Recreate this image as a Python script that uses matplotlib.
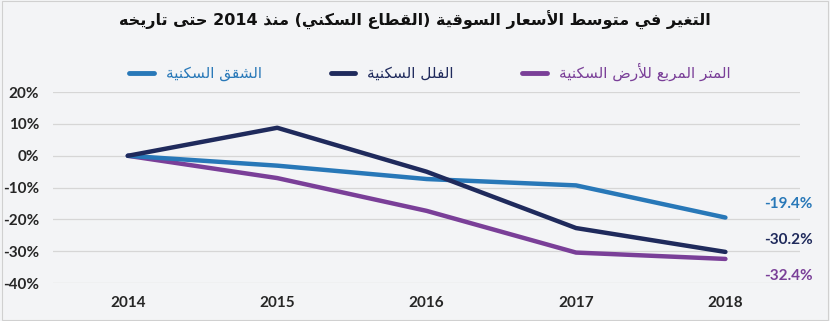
import re
import matplotlib
matplotlib.use("Agg")
import matplotlib.pyplot as plt
from matplotlib.lines import Line2D

# ---------------- data ----------------
years = ["2014", "2015", "2016", "2017", "2018"]
apartments = [0.0, -3.1, -7.3, -9.3, -19.4]      # الشقق السكنية
villas = [0.0, 8.8, -5.0, -22.7, -30.2]          # الفلل السكنية
land = [0.0, -7.0, -17.3, -30.4, -32.4]          # المتر المربع للأرض السكنية
end_labels = ["-19.4%", "-30.2%", "-32.4%"]
y_ticks = [20, 10, 0, -10, -20, -30, -40]

title_ar = "التغير في متوسط الأسعار السوقية (القطاع السكني) منذ 2014 حتى تاريخه"
name_apart = "الشقق السكنية"
name_villa = "الفلل السكنية"
name_land = "المتر المربع للأرض السكنية"

# ---------------- minimal Arabic shaping ----------------
FORMS = {
    '\u0627': (0xFE8D, 0xFE8E, None, None),
    '\u0623': (0xFE83, 0xFE84, None, None),
    '\u0628': (0xFE8F, 0xFE90, 0xFE91, 0xFE92),
    '\u0629': (0xFE93, 0xFE94, None, None),
    '\u062A': (0xFE95, 0xFE96, 0xFE97, 0xFE98),
    '\u062D': (0xFEA1, 0xFEA2, 0xFEA3, 0xFEA4),
    '\u062E': (0xFEA5, 0xFEA6, 0xFEA7, 0xFEA8),
    '\u0630': (0xFEAB, 0xFEAC, None, None),
    '\u0631': (0xFEAD, 0xFEAE, None, None),
    '\u0633': (0xFEB1, 0xFEB2, 0xFEB3, 0xFEB4),
    '\u0634': (0xFEB5, 0xFEB6, 0xFEB7, 0xFEB8),
    '\u0636': (0xFEBD, 0xFEBE, 0xFEBF, 0xFEC0),
    '\u0637': (0xFEC1, 0xFEC2, 0xFEC3, 0xFEC4),
    '\u0639': (0xFEC9, 0xFECA, 0xFECB, 0xFECC),
    '\u063A': (0xFECD, 0xFECE, 0xFECF, 0xFED0),
    '\u0641': (0xFED1, 0xFED2, 0xFED3, 0xFED4),
    '\u0642': (0xFED5, 0xFED6, 0xFED7, 0xFED8),
    '\u0643': (0xFED9, 0xFEDA, 0xFEDB, 0xFEDC),
    '\u0644': (0xFEDD, 0xFEDE, 0xFEDF, 0xFEE0),
    '\u0645': (0xFEE1, 0xFEE2, 0xFEE3, 0xFEE4),
    '\u0646': (0xFEE5, 0xFEE6, 0xFEE7, 0xFEE8),
    '\u0647': (0xFEE9, 0xFEEA, 0xFEEB, 0xFEEC),
    '\u0648': (0xFEED, 0xFEEE, None, None),
    '\u0649': (0xFEEF, 0xFEF0, None, None),
    '\u064A': (0xFEF1, 0xFEF2, 0xFEF3, 0xFEF4),
}
LAMALEF = {'\u0627': (0xFEFB, 0xFEFC), '\u0623': (0xFEF7, 0xFEF8)}


def shape(text):
    units = []
    i = 0
    while i < len(text):
        c = text[i]
        if c == '\u0644' and i + 1 < len(text) and text[i + 1] in LAMALEF:
            units.append(('LA', text[i + 1]))
            i += 2
        else:
            units.append(('C', c))
            i += 1

    def dual(u):
        return u[0] == 'C' and u[1] in FORMS and FORMS[u[1]][2] is not None

    def letter(u):
        return u[0] == 'LA' or u[1] in FORMS

    out = []
    for k, u in enumerate(units):
        prev = units[k - 1] if k > 0 else None
        nxt = units[k + 1] if k + 1 < len(units) else None
        jp = prev is not None and dual(prev) and letter(u)
        if u[0] == 'LA':
            iso, fin = LAMALEF[u[1]]
            out.append(chr(fin if jp else iso))
            continue
        c = u[1]
        if c not in FORMS:
            out.append(c)
            continue
        f = FORMS[c]
        jn = f[2] is not None and nxt is not None and letter(nxt)
        if jp and jn:
            out.append(chr(f[3]))
        elif jp:
            out.append(chr(f[1]))
        elif jn:
            out.append(chr(f[2]))
        else:
            out.append(chr(f[0]))
    s = ''.join(out)[::-1]
    s = re.sub(r'[0-9]+', lambda m: m.group(0)[::-1], s)
    s = s.translate(str.maketrans('()', ')('))
    return s


# ---------------- plot ----------------
BG = '#f3f4f6'
C_BLUE = '#2878b8'
C_NAVY = '#1f2a5c'
C_PURP = '#7a3f98'
TXT = '#262626'
NUMFONT = ['Lato', 'DejaVu Sans']

fig = plt.figure(figsize=(8.3, 3.21), dpi=100, facecolor=BG)
ax = fig.add_axes([0.064, 0.118, 0.9, 0.595], facecolor=BG)

x = list(range(len(years)))
kw = dict(lw=3.2, solid_capstyle='round', solid_joinstyle='round')
ax.plot(x, apartments, color=C_BLUE, zorder=3, **kw)
ax.plot(x, villas, color=C_NAVY, zorder=4, **kw)
ax.plot(x, land, color=C_PURP, zorder=2, **kw)

ax.set_xlim(-0.5, len(years) - 0.5)
ax.set_ylim(-40, 20)
ax.set_yticks(y_ticks)
ax.set_yticklabels([f"{v}%" for v in y_ticks])
ax.set_xticks(x)
ax.set_xticklabels(years)
ax.yaxis.grid(True, color='#d6d6d6', lw=0.9)
ax.set_axisbelow(True)
for sp in ax.spines.values():
    sp.set_visible(False)
ax.tick_params(length=0, labelsize=11, colors=TXT)
ax.tick_params(axis='y', pad=10)
ax.tick_params(axis='x', pad=9)
for lab in ax.get_xticklabels() + ax.get_yticklabels():
    lab.set_fontweight('bold')
    lab.set_family(NUMFONT)

# end labels
last = len(years) - 1
for vals, lab, col, dy in [(apartments, end_labels[0], C_BLUE, 4.2),
                           (villas, end_labels[1], C_NAVY, 3.6),
                           (land, end_labels[2], C_PURP, -5.3)]:
    ax.text(last + 0.26, vals[-1] + dy, lab, fontsize=11, fontweight='bold', color=col,
            va='center', ha='left', clip_on=False, family=NUMFONT)

# title
fig.text(0.5, 0.935, shape(title_ar), ha='center', va='center', fontsize=11.5,
         fontweight='bold', color='#111111', family='DejaVu Sans')

# legend
handles = [Line2D([0], [0], color=C_BLUE, lw=3.5, solid_capstyle='round'),
           Line2D([0], [0], color=C_NAVY, lw=3.5, solid_capstyle='round'),
           Line2D([0], [0], color=C_PURP, lw=3.5, solid_capstyle='round')]
labels = [shape(name_apart), shape(name_villa), shape(name_land)]
leg = fig.legend(handles, labels, loc='center', bbox_to_anchor=(0.518, 0.775), ncol=3,
                 frameon=False, fontsize=11, handlelength=1.6, handletextpad=0.8,
                 columnspacing=4.5)
for t, c in zip(leg.get_texts(), [C_BLUE, C_NAVY, C_PURP]):
    t.set_color(c)

# faint border
fig.patches.append(plt.Rectangle((0.002, 0.003), 0.996, 0.994, transform=fig.transFigure,
                                 fill=False, ec='#d0d0d0', lw=0.8))

fig.savefig('out.png', dpi=100, facecolor=BG)
